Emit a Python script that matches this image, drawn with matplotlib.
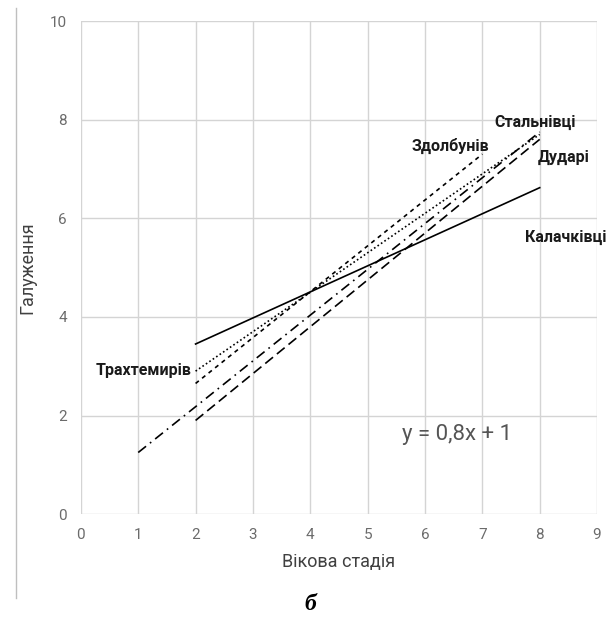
import matplotlib
matplotlib.use("Agg")
import matplotlib.pyplot as plt
from matplotlib.lines import Line2D

plt.rcParams['font.family'] = ['Roboto', 'DejaVu Sans']

# regression lines: start/end points for each locality
names = ['Калачківці', 'Трахтемирів', 'Здолбунів', 'Стальнівці', 'Дударі']
x_start = [2, 2, 2, 1, 2]
x_end = [8, 8, 7, 8, 8]
y_start = [3.45, 2.9, 2.65, 1.25, 1.9]
y_end = [6.62, 7.7, 7.3, 7.75, 7.6]
styles = ['-', (0, (1, 1.5)), (0, (2.5, 2.5)), (0, (6, 3, 1, 3)), (0, (6, 3))]

# label positions (data coords)
label_x = [8.45, 1.93, 6.45, 7.92, 8.42]
label_y = [5.62, 2.92, 7.46, 7.95, 7.24]
label_ha = ['center', 'right', 'center', 'center', 'center']

fig = plt.figure(figsize=(6.08, 6.27), dpi=100)
ax = fig.add_axes([0.133, 0.18, 0.849, 0.7865])

for i in range(len(names)):
    ax.plot([x_start[i], x_end[i]], [y_start[i], y_end[i]], color='black',
            linestyle=styles[i], linewidth=1.2)
    ax.text(label_x[i], label_y[i], names[i], ha=label_ha[i], va='center',
            fontsize=11.5, fontweight='bold', color='#1a1a1a', fontstretch='condensed')

ax.text(6.56, 1.62, 'y = 0,8x + 1', ha='center', va='center', fontsize=16,
        color='#555555', fontstretch='condensed')

ax.set_xlim(0, 9)
ax.set_ylim(0, 10)
ax.set_xticks(range(0, 10))
ax.set_yticks(range(0, 11, 2))
ax.grid(True, color='#d4d4d4', linewidth=1)
ax.set_axisbelow(True)
for s in ax.spines.values():
    s.set_visible(False)
ax.tick_params(length=0, colors='#6b6b6b', labelsize=11, pad=10)
ax.set_xlabel('Вікова стадія', fontsize=13, color='#404040', labelpad=8)
ax.set_ylabel('Галуження', fontsize=13, color='#404040', labelpad=10)

fig.add_artist(Line2D([0.026, 0.026], [1 - 8 / 627, 1 - 598 / 627], color='#bfbfbf', linewidth=1))
fig.text(0.51, 1 - 605 / 627, 'б', ha='center', va='center', fontsize=17,
         fontweight='bold', fontstyle='italic', family='Liberation Serif')

fig.savefig('out.png', dpi=100)
